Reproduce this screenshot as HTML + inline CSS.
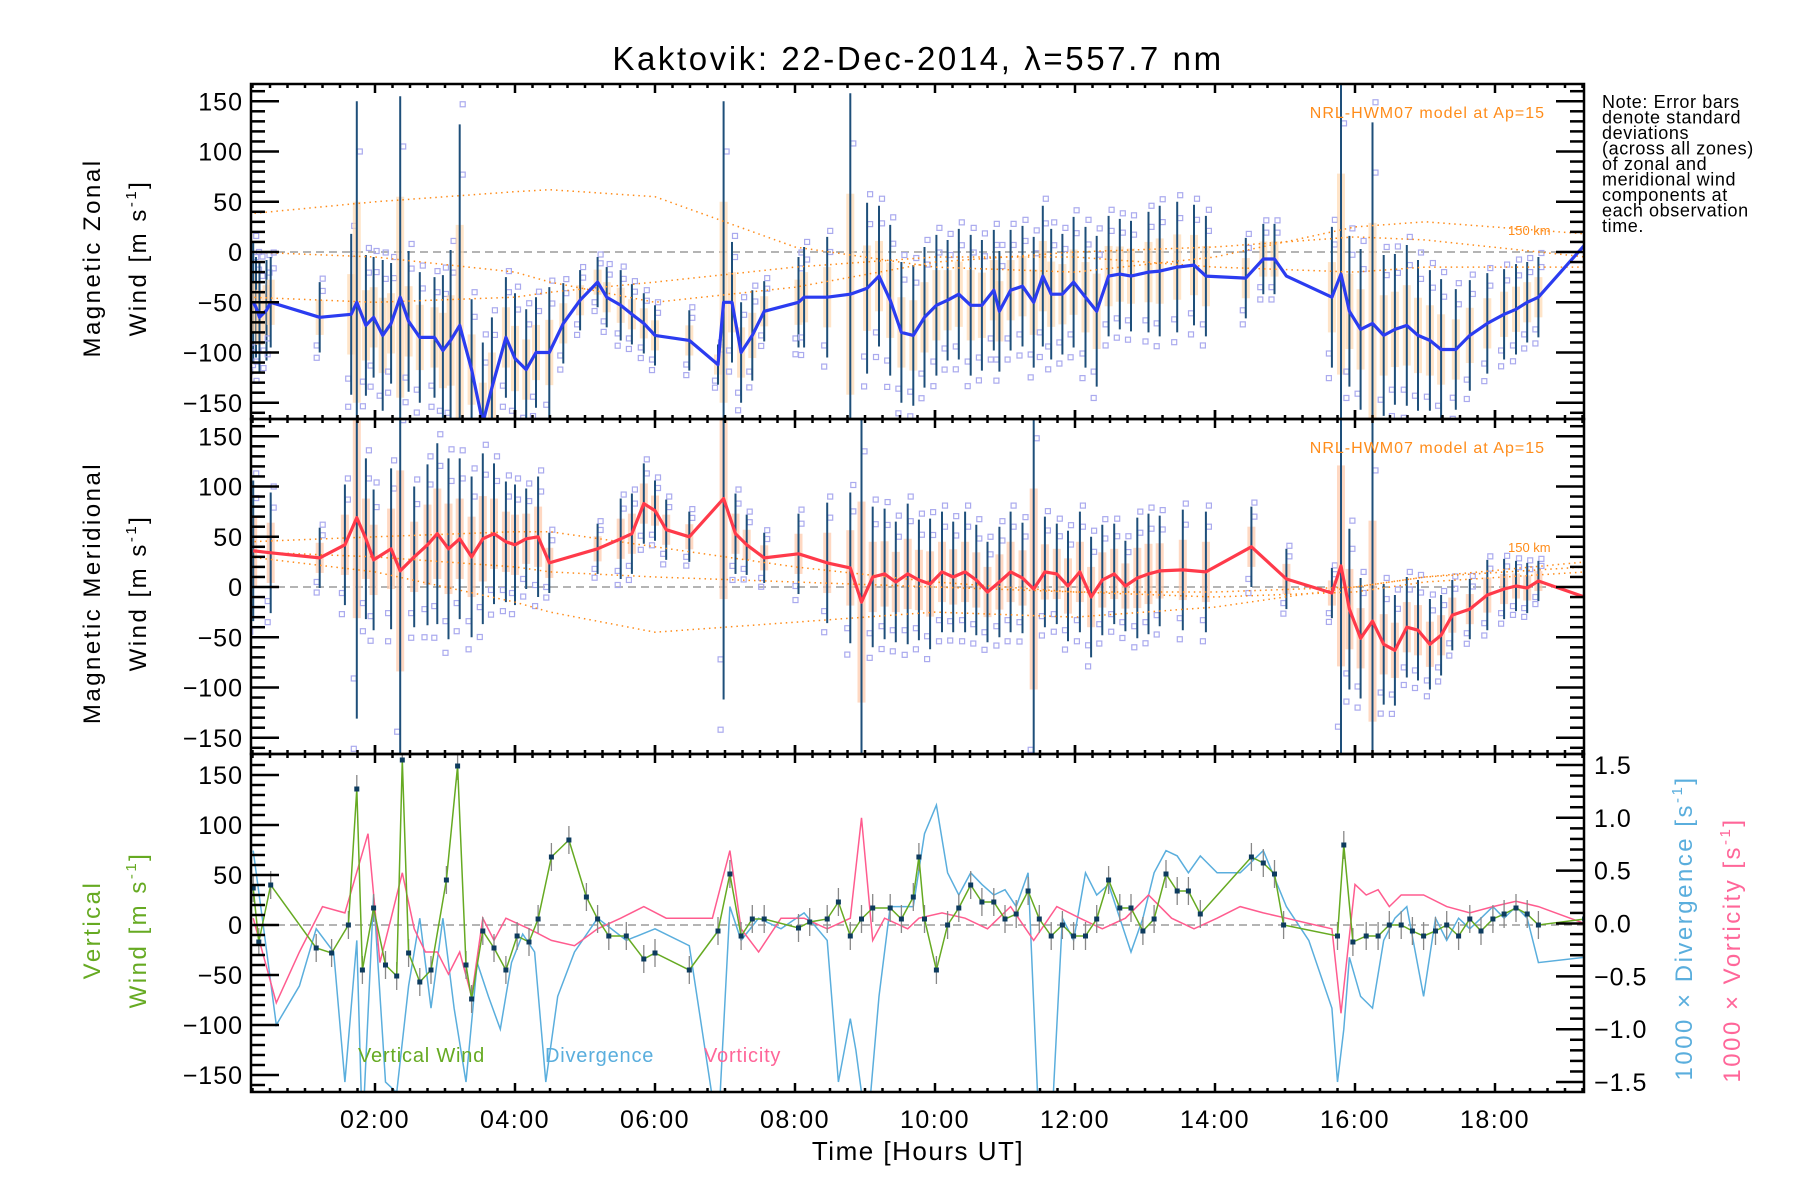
<!DOCTYPE html>
<html><head><meta charset="utf-8"><style>
html,body{margin:0;padding:0;background:#fff}
svg{display:block;font-family:"Liberation Sans",sans-serif}
</style></head><body>
<svg id="chart" width="1800" height="1200" viewBox="0 0 1800 1200" xmlns="http://www.w3.org/2000/svg">
<defs>
<clipPath id="c0"><rect x="251" y="84" width="1333" height="335"/></clipPath>
<clipPath id="c1"><rect x="251" y="419" width="1333" height="335"/></clipPath>
<clipPath id="c2"><rect x="251" y="754" width="1333" height="338"/></clipPath>
</defs>
<text x="918" y="70" font-size="33" text-anchor="middle" letter-spacing="2.6">Kaktovik: 22-Dec-2014, λ=557.7 nm</text>
<g id="layer"></g>
<text transform="translate(100,258) rotate(-90)" font-size="24" text-anchor="middle" letter-spacing="2.5">Magnetic Zonal</text>
<text transform="translate(146,258) rotate(-90)" font-size="24" text-anchor="middle" letter-spacing="2.5">Wind [m s<tspan font-size="15" dy="-10">-1</tspan><tspan dy="10">]</tspan></text>
<text transform="translate(100,593) rotate(-90)" font-size="24" text-anchor="middle" letter-spacing="2.5">Magnetic Meridional</text>
<text transform="translate(146,593) rotate(-90)" font-size="24" text-anchor="middle" letter-spacing="2.5">Wind [m s<tspan font-size="15" dy="-10">-1</tspan><tspan dy="10">]</tspan></text>
<text transform="translate(100,930) rotate(-90)" font-size="24" text-anchor="middle" letter-spacing="2.5" fill="#66aa22">Vertical</text>
<text transform="translate(146,930) rotate(-90)" font-size="24" text-anchor="middle" letter-spacing="2.5" fill="#66aa22">Wind [m s<tspan font-size="15" dy="-10">-1</tspan><tspan dy="10">]</tspan></text>
<text transform="translate(1692,928) rotate(-90)" font-size="24" text-anchor="middle" letter-spacing="2.5" fill="#5aaedd">1000 × Divergence [s<tspan font-size="15" dy="-10">-1</tspan><tspan dy="10">]</tspan></text>
<text transform="translate(1740,950) rotate(-90)" font-size="24" text-anchor="middle" letter-spacing="2.5" fill="#ff6699">1000 × Vorticity [s<tspan font-size="15" dy="-10">-1</tspan><tspan dy="10">]</tspan></text>
<text x="918" y="1160" font-size="26" text-anchor="middle" letter-spacing="1.5">Time [Hours UT]</text>
<text x="1545" y="118" font-size="16" text-anchor="end" fill="#ff8c1a" letter-spacing="1">NRL-HWM07 model at Ap=15</text>
<text x="1545" y="453" font-size="16" text-anchor="end" fill="#ff8c1a" letter-spacing="1">NRL-HWM07 model at Ap=15</text>
<g font-size="20" letter-spacing="0.8">
<text x="358" y="1062" fill="#66aa22">Vertical Wind</text>
<text x="545" y="1062" fill="#5aaedd">Divergence</text>
<text x="704" y="1062" fill="#ff6699">Vorticity</text>
</g>
<g font-size="18" letter-spacing="0.6">
<text x="1602" y="108">Note: Error bars</text>
<text x="1602" y="123.5">denote standard</text>
<text x="1602" y="139">deviations</text>
<text x="1602" y="154.5">(across all zones)</text>
<text x="1602" y="170">of zonal and</text>
<text x="1602" y="185.5">meridional wind</text>
<text x="1602" y="201">components at</text>
<text x="1602" y="216.5">each observation</text>
<text x="1602" y="232">time.</text>
</g>
</svg>
<script>
// ---- data ----
const zT=[0.26,0.3,0.35,0.45,0.51,1.21,1.66,1.74,1.87,1.98,2.11,2.23,2.36,2.48,2.64,2.85,2.97,3.08,3.21,3.38,3.54,3.67,3.87,4.00,4.16,4.30,4.49,4.69,4.93,5.18,5.31,5.51,5.67,5.84,6.00,6.49,6.90,6.98,7.10,7.23,7.39,7.56,8.05,8.13,8.46,8.79,9.03,9.20,9.36,9.52,9.69,9.85,10.02,10.18,10.34,10.51,10.67,10.84,10.92,11.08,11.25,11.41,11.54,11.66,11.82,11.98,12.15,12.31,12.48,12.64,12.80,13.05,13.21,13.46,13.70,13.87,14.44,14.69,14.85,15.02,15.67,15.80,15.92,16.08,16.25,16.41,16.57,16.74,16.90,17.07,17.23,17.44,17.64,17.89,18.13,18.30,18.46,18.62,19.28];
const zonalMean=[-50,-55,-65,-58,-50,-65,-62,-50,-73,-65,-83,-71,-45,-69,-85,-85,-98,-88,-73,-117,-170,-135,-85,-106,-117,-100,-100,-71,-48,-30,-45,-53,-62,-71,-83,-88,-112,-50,-50,-100,-83,-59,-50,-45,-45,-42,-36,-24,-48,-80,-83,-65,-53,-48,-42,-53,-53,-38,-59,-38,-34,-50,-24,-42,-42,-30,-45,-59,-24,-22,-24,-20,-19,-15,-13,-24,-26,-7,-7,-24,-45,-22,-59,-77,-71,-83,-77,-73,-83,-88,-97,-97,-83,-71,-62,-57,-50,-45,7];
const zonalStd=[60,50,55,50,45,35,80,200,70,60,75,60,200,70,65,60,75,90,200,70,80,70,60,65,60,55,65,40,30,25,30,35,30,30,30,30,20,200,60,50,45,30,45,50,60,200,85,70,75,70,70,70,70,60,65,70,65,60,60,60,60,65,70,65,60,65,70,75,60,55,55,60,65,65,60,60,40,35,35,0,70,200,75,80,200,80,75,80,75,70,70,60,55,50,45,45,40,40,0];
const mT=[0.26,0.51,1.21,1.57,1.74,1.87,1.98,2.23,2.36,2.56,2.75,2.89,3.05,3.21,3.38,3.54,3.70,3.87,4.00,4.16,4.33,4.49,5.18,5.51,5.67,5.84,6.00,6.16,6.49,6.98,7.15,7.31,7.56,8.05,8.46,8.79,8.95,9.11,9.28,9.44,9.61,9.77,9.93,10.10,10.26,10.43,10.59,10.75,10.92,11.08,11.25,11.41,11.57,11.74,11.90,12.07,12.23,12.39,12.56,12.72,12.89,13.05,13.21,13.54,13.87,14.52,15.02,15.67,15.80,15.92,16.08,16.25,16.41,16.57,16.74,16.90,17.07,17.23,17.39,17.64,17.89,18.13,18.30,18.46,18.62,19.28];
const meridMean=[36,34,29,42,69,48,27,38,16,30,42,53,38,48,30,48,53,45,42,48,50,24,38,48,53,83,76,57,50,88,53,42,29,33,24,19,-15,10,13,5,13,7,3,15,10,15,7,-5,5,15,9,-2,15,13,1,15,-10,7,13,1,9,13,16,17,15,40,8,-6,21,-22,-51,-34,-57,-63,-40,-43,-57,-48,-28,-22,-8,-2,1,-1,6,-10];
const meridStd=[70,60,30,60,200,80,70,80,200,70,80,90,90,80,80,85,70,60,60,50,60,30,25,40,40,40,30,30,25,200,40,30,25,40,60,75,200,70,65,60,70,60,65,60,55,60,55,50,55,60,55,200,55,50,55,60,60,55,50,45,60,60,55,60,60,40,30,25,200,80,60,200,60,55,50,50,45,40,35,30,35,30,25,25,20,0];
const vT=[0.26,0.34,0.51,1.16,1.38,1.62,1.74,1.82,1.98,2.15,2.31,2.39,2.48,2.64,2.80,3.02,3.18,3.30,3.38,3.54,3.70,3.87,4.03,4.20,4.33,4.52,4.77,5.02,5.18,5.34,5.59,5.84,6.00,6.49,6.90,7.07,7.23,7.39,7.56,8.05,8.21,8.46,8.62,8.79,8.95,9.11,9.36,9.52,9.69,9.77,9.85,10.02,10.18,10.34,10.51,10.67,10.84,11.00,11.16,11.33,11.49,11.66,11.82,11.98,12.15,12.31,12.48,12.64,12.80,12.97,13.13,13.30,13.46,13.62,13.79,14.52,14.69,14.85,14.98,15.75,15.84,15.97,16.16,16.33,16.49,16.66,16.82,16.98,17.15,17.31,17.48,17.64,17.80,17.97,18.13,18.30,18.46,18.62,19.28];
const vertWind=[37,-17,40,-23,-28,0,136,-45,17,-40,-51,165,-28,-57,-45,45,159,-40,-74,-6,-23,-45,-11,-17,6,68,85,28,6,-11,-11,-34,-28,-45,-6,51,-11,6,6,-3,3,6,23,-11,6,17,17,6,28,68,6,-45,0,17,40,23,23,6,11,34,6,-11,0,-11,-11,6,45,17,17,-6,6,51,34,34,11,68,62,51,0,-11,80,-17,-11,-11,0,0,-6,-11,-6,0,-11,6,-6,6,11,17,11,0,6];
const dT=[0.26,0.39,0.59,0.92,1.16,1.41,1.57,1.74,1.82,1.98,2.15,2.31,2.48,2.64,2.80,2.97,3.13,3.30,3.46,3.62,3.79,3.95,4.11,4.28,4.44,4.61,4.85,5.18,5.59,6.00,6.49,6.90,7.07,7.23,7.48,7.80,8.13,8.46,8.62,8.79,8.87,9.03,9.20,9.36,9.69,9.85,10.02,10.18,10.34,10.51,10.67,10.84,11.00,11.16,11.33,11.49,11.66,11.82,11.98,12.15,12.31,12.48,12.64,12.80,12.97,13.13,13.30,13.46,13.62,13.79,14.03,14.36,14.69,15.02,15.34,15.67,15.75,15.84,15.92,16.08,16.25,16.41,16.57,16.74,16.98,17.15,17.31,17.48,17.64,17.80,17.97,18.13,18.30,18.46,18.62,19.28];
const divergence=[0.69,0.05,-0.96,-0.59,-0.05,-0.27,-1.5,-0.16,-2,0.27,-1.5,-1.6,-0.59,0.05,-0.8,0.05,-0.8,-1.5,-0.37,-0.69,-1.0,-0.37,-0.1,-0.27,-1.5,-0.69,-0.27,0.05,-0.16,-0.05,-0.21,-2,0.16,-0.16,0.05,-0.05,0.1,-0.16,-1.5,-0.9,-1.2,-2,-0.69,0.16,0.16,0.85,1.12,0.48,0.27,0.48,0.37,0.27,0.32,0.16,0.48,-2,-2,0.05,-0.16,0.48,0.27,0.37,0.05,-0.27,0.05,0.48,0.69,0.64,0.48,0.64,0.48,0.48,0.69,0.16,-0.16,-0.8,-1.5,-1.0,-0.32,-0.69,-0.8,-0.16,0.05,0.16,-0.69,0.05,-0.16,0.05,-0.05,0.05,0.16,0.05,0.16,0.05,-0.37,-0.32];
const wT=[0.26,0.59,0.92,1.25,1.57,1.90,2.07,2.23,2.39,2.56,2.72,2.89,3.05,3.21,3.38,3.54,3.70,3.87,4.20,4.52,4.85,5.18,5.51,5.84,6.16,6.49,6.82,7.07,7.23,7.48,7.80,8.13,8.46,8.79,8.95,9.11,9.28,9.61,9.77,10.10,10.43,10.75,11.08,11.41,11.74,12.07,12.39,12.72,13.05,13.38,13.70,14.03,14.36,14.69,15.02,15.34,15.67,15.80,16.00,16.16,16.33,16.49,16.66,16.98,17.31,17.64,17.97,18.30,18.62,19.28];
const vorticity=[0.05,-0.75,-0.27,0.16,0.1,0.85,-0.37,0.05,0.48,-0.05,-0.27,-0.27,-0.48,-0.27,-0.69,0.05,-0.16,0.05,-0.05,-0.16,-0.21,-0.05,0.05,0.16,0.05,0.05,0.05,0.69,-0.05,-0.27,0.05,0.05,-0.05,0.05,1.0,-0.16,0.05,-0.05,0.05,0.1,0.05,-0.05,0.16,-0.16,0.16,0.05,-0.05,0.05,0.27,0.05,-0.05,0.05,0.16,0.1,0.05,0,-0.05,-0.85,0.37,0.27,0.32,0.16,0.27,0.27,0.16,0.1,0.16,0.21,0.16,0];
const hT=[0.2,2,4,4.5,6,8,10,12,14,16,17,19.3];
const hwmZonalA=[38,50,60,62,55,5,-15,-20,-5,25,30,18];
const hwmZonalB=[0,-5,-20,-30,-50,-35,-10,0,5,15,12,-5];
const hwmZonalC=[-45,-50,-45,-40,-30,-15,-5,-5,-15,-20,-15,-15];
const hwmMeridD=[30,15,-15,-25,-45,-35,-25,-30,-20,0,10,25];
const hwmMeridE=[45,50,55,55,40,20,5,-5,-10,-5,5,15];
const hwmMeridF=[35,30,20,15,10,5,0,-5,-5,0,10,20];
const hourTicks=[2,4,6,8,10,12,14,16,18];
const hourLabels=["02:00","04:00","06:00","08:00","10:00","12:00","14:00","16:00","18:00"];
const windTicks=[-150,-100,-50,0,50,100,150];
const rightTicks=[-1.5,-1.0,-0.5,0.0,0.5,1.0,1.5];

// ---- scales ----
const X0=251,X1=1584;
const xs=t=>235+70*t;
const ys=[v=>252-v*1.005, v=>587-v*1.005, v=>925-v*1.0];
const yr=v=>923.5-v*105.7;
const panels=[[84,419],[419,754],[754,1092]];
const NS="http://www.w3.org/2000/svg";
const layer=document.getElementById('layer');
function mk(tag,attrs,parent){const e=document.createElementNS(NS,tag);for(const k in attrs)e.setAttribute(k,attrs[k]);(parent||layer).appendChild(e);return e;}
function poly(T,V,f){return T.map((t,i)=>xs(t).toFixed(1)+','+f(V[i]).toFixed(1)).join(' ');}

function windPanel(p,T,V,S,lineColor,hwms,name){
  const g=mk('g',{'clip-path':'url(#c'+p+')'});
  
  
  const y=ys[p];
  const z=mk('line',{x1:X0,x2:X1,y1:y(0),y2:y(0),stroke:'#888','stroke-dasharray':'8,5','stroke-width':1.3},g);
  
  
  T.forEach((t,i)=>{
    const s=S[i]; if(!s) return;
    const band=mk('rect',{x:xs(t)-4,y:y(V[i]+s*0.5),width:8,height:y(V[i]-s*0.5)-y(V[i]+s*0.5),fill:p==0?'#ffd9b0':'#ffc8a8',opacity:0.7},g);
    
    
    [1.1,0.75,-0.8,-1.15].forEach(k=>{
      const sq=mk('rect',{x:xs(t)-2.5+(k>0?3:-3),y:y(V[i]+s*k)-2.5,width:5,height:5,fill:'none',stroke:'#aaaaee','stroke-width':1.2},g);
      
      
    });
    const eb=mk('line',{x1:xs(t),x2:xs(t),y1:y(V[i]+s),y2:y(V[i]-s),stroke:'#1e4f7a','stroke-width':2},g);
    
    
  });
  hwms.forEach((H,j)=>{
    const h=mk('polyline',{points:poly(hT,H,y),fill:'none',stroke:'#ff8c1a','stroke-width':1.5,'stroke-dasharray':'1.5,4'},g);
    
    
  });
  const l=mk('polyline',{points:poly(T,V,y),fill:'none',stroke:lineColor,'stroke-width':3.2,'stroke-linejoin':'round'},g);
  
  
}
windPanel(0,zT,zonalMean,zonalStd,'#2b3cf0',[hwmZonalA,hwmZonalB,hwmZonalC],'zonal');
windPanel(1,mT,meridMean,meridStd,'#ff3a4a',[hwmMeridD,hwmMeridE,hwmMeridF],'meridional');

(function(){
  const g=mk('g',{'clip-path':'url(#c2)'});
  
  
  const y=ys[2];
  const z=mk('line',{x1:X0,x2:X1,y1:y(0),y2:y(0),stroke:'#888','stroke-dasharray':'8,5','stroke-width':1.3},g);
  
  
  const d=mk('polyline',{points:poly(dT,divergence,yr),fill:'none',stroke:'#5aaedd','stroke-width':1.5},g);
  
  
  const w=mk('polyline',{points:poly(wT,vorticity,yr),fill:'none',stroke:'#ff5c8f','stroke-width':1.5},g);
  
  
  vT.forEach((t,i)=>{
    const eb=mk('line',{x1:xs(t),x2:xs(t),y1:y(vertWind[i]+14),y2:y(vertWind[i]-14),stroke:'#888','stroke-width':1.3},g);
    
    
  });
  const v=mk('polyline',{points:poly(vT,vertWind,y),fill:'none',stroke:'#66aa22','stroke-width':1.5},g);
  
  
  vT.forEach((t,i)=>{
    const pt=mk('rect',{x:xs(t)-2.5,y:y(vertWind[i])-2.5,width:5,height:5,fill:'#0d3b5e'},g);
    
    
  });
})();

const ax=mk('g',{stroke:'#000','stroke-width':2.5,fill:'none'});


panels.forEach(([t,b],p)=>{
  const fr=mk('rect',{x:X0,y:t,width:X1-X0,height:b-t},ax);
  
  
  const y=ys[p];
  for(let v=-160;v<=160;v+=10){
    const yy=y(v); if(yy<t+1||yy>b-1) continue;
    const major=v%50===0;
    const L=major?28:14;
    const tk=mk('line',{x1:X0,x2:X0+L,y1:yy,y2:yy},ax);
    
    
    if(p<2){
      const tr=mk('line',{x1:X1,x2:X1-L,y1:yy,y2:yy},ax);
      
      
    }
  }
  windTicks.forEach(v=>{
    const tx=mk('text',{x:243,y:y(v)+9,'font-size':25,'text-anchor':'end',fill:'#000',stroke:'none','letter-spacing':1},ax);
    
    
    tx.textContent=v<0?'\u2212'+(-v):String(v);
  });
  for(let m=15;m<=19.3*60;m+=15){
    const h=m/60; const xx=xs(h); if(xx<=X0+1||xx>=X1-1) continue;
    const major=m%120===0;
    const L=major?9:4;
    [t,b].forEach((yy,k)=>{
      const dir=k===0?1:-1;
      const tk=mk('line',{x1:xx,x2:xx,y1:yy,y2:yy+dir*L},ax);
      
      
      if(major&&p>0&&k===0){
        const tk2=mk('line',{x1:xx,x2:xx,y1:yy,y2:yy-L},ax);
        
        
      }
    });
  }
});
for(let i=-15;i<=15;i++){
  const v=i/10; const yy=yr(v); if(yy<755||yy>1091) continue;
  const L=i%5===0?28:14;
  const tk=mk('line',{x1:X1,x2:X1-L,y1:yy,y2:yy},ax);
  
  
}
rightTicks.forEach(v=>{
  const tx=mk('text',{x:1594,y:yr(v)+9,'font-size':25,fill:'#000',stroke:'none','letter-spacing':1},ax);
  
  
  tx.textContent=(v<0?'\u2212':'')+Math.abs(v).toFixed(1);
});
hourTicks.forEach((h,i)=>{
  const tx=mk('text',{x:xs(h),y:1128,'font-size':25,'text-anchor':'middle',fill:'#000',stroke:'none','letter-spacing':1.5},ax);
  
  
  tx.textContent=hourLabels[i];
});
[['150 km',0,17],['150 km',1,35]].forEach(([s,p,v])=>{
  const tx=mk('text',{x:1508,y:ys[p](v),'font-size':13,fill:'#ff8c1a'});
  
  
  tx.textContent=s;
});
</script>
</body></html>
